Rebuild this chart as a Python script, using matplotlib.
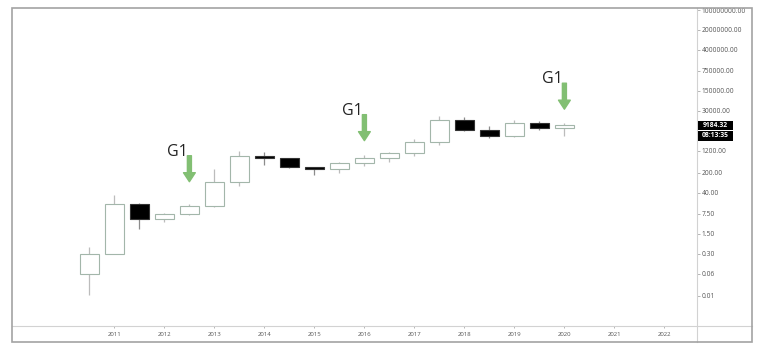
import matplotlib
matplotlib.use("Agg")
import matplotlib.pyplot as plt
from matplotlib.patches import Rectangle
from matplotlib.lines import Line2D
from matplotlib.ticker import FixedLocator, FixedFormatter, NullLocator
from matplotlib.transforms import Bbox, TransformedBbox

plt.rcParams['font.family'] = ['Open Sans', 'DejaVu Sans']

# ---------------- data ----------------
periods = [2010.5, 2011.0, 2011.5, 2012.0, 2012.5, 2013.0, 2013.5, 2014.0, 2014.5, 2015.0,
           2015.5, 2016.0, 2016.5, 2017.0, 2017.5, 2018.0, 2018.5, 2019.0, 2019.5, 2020.0]
opens  = [0.06, 0.30, 17.0, 4.8, 7.2, 14.5, 97, 760, 650, 325,
          265, 450, 690, 1000, 2500, 14500, 6600, 3800, 11000, 7300]
highs  = [0.5, 34, 17.5, 7.8, 16.5, 266, 1200, 1100, 680, 330,
          500, 850, 1080, 3000, 20000, 18000, 8500, 14000, 13000, 11500]
lows   = [0.0108, 0.29, 2.2, 4.0, 6.8, 13.0, 68, 380, 300, 170,
          205, 360, 500, 780, 1900, 5800, 3300, 3700, 6600, 4000]
closes = [0.30, 17.0, 4.8, 7.2, 14.5, 97, 760, 650, 325, 265,
          450, 690, 1000, 2500, 14500, 6600, 3800, 11000, 7300, 9184.32]

year_ticks = [2011, 2012, 2013, 2014, 2015, 2016, 2017, 2018, 2019, 2020, 2021, 2022]
year_labels = ["2011", "2012", "2013", "2014", "2015", "2016", "2017", "2018", "2019", "2020", "2021", "2022"]
price_ticks = [0.01, 0.06, 0.30, 1.50, 7.50, 40, 200, 1200, 30000, 150000, 750000,
               4000000, 20000000, 100000000]
price_labels = ["0.01", "0.06", "0.30", "1.50", "7.50", "40.00", "200.00", "1200.00",
                "30000.00", "150000.00", "750000.00", "4000000.00", "20000000.00", "100000000.00"]

last_price = "9184.32"
last_time = "08:13:35"

signal_periods = [2012.5, 2016.0, 2020.0]
signal_tips = [99, 2700, 34000]
signal_text = "G1"

# ---------------- layout ----------------
W, H = 760, 360
fig = plt.figure(figsize=(W / 100, H / 100), dpi=100)
fig.patch.set_facecolor('white')


def fx(px):
    return px / W


def fy(py):
    return 1 - py / H


ax = fig.add_axes([fx(12), fy(326), fx(697) - fx(12), fy(8) - fy(326)])
ax.set_facecolor('white')
ax.set_yscale('log')
ax.set_xlim(2008.952, 2022.652)
ax.set_ylim(10 ** -3.049, 10 ** 8.07)
for s in ax.spines.values():
    s.set_visible(False)

# ---------------- candles ----------------
up_edge = '#a3b6aa'
width = 0.38
for x, o, h, l, c in zip(periods, opens, highs, lows, closes):
    up = c >= o
    ax.vlines(x, l, h, color='#bcbcbc' if up else '#8c8c8c', lw=0.9, zorder=2)
    ax.bar(x, abs(c - o), width, bottom=min(o, c),
           color='white' if up else 'black',
           edgecolor=up_edge if up else '#333333', linewidth=0.8, zorder=3)

# ---------------- signals ----------------
green = '#82bf73'
for x, tip in zip(signal_periods, signal_tips):
    ax.annotate('', xy=(x, tip), xytext=(0, 26), textcoords='offset pixels',
                arrowprops=dict(arrowstyle='simple,head_length=6.5,head_width=8.5,tail_width=2.9',
                                mutation_scale=1, color=green, shrinkA=0, shrinkB=0),
                zorder=5)
    ax.annotate(signal_text, xy=(x, tip), xytext=(-2, 26), textcoords='offset pixels',
                ha='right', va='baseline', fontsize=11.5, color='#222222', zorder=5)

# ---------------- axes ticks ----------------
ax.yaxis.tick_right()
ax.yaxis.set_major_locator(FixedLocator(price_ticks))
ax.yaxis.set_major_formatter(FixedFormatter(price_labels))
ax.yaxis.set_minor_locator(NullLocator())
ax.tick_params(axis='y', which='major', direction='out', length=1.8, width=0.6,
               color='#aaaaaa', pad=1.5, labelsize=4.8, labelcolor='#555555')
ax.set_xticks(year_ticks)
ax.set_xticklabels(year_labels)
ax.xaxis.set_minor_locator(NullLocator())
ax.tick_params(axis='x', direction='out', length=1.5, width=0.6, color='#aaaaaa',
               pad=2.5, labelsize=4.3, labelcolor='#555555')

clip = TransformedBbox(Bbox.from_extents(0, 0, 1, fy(8)), fig.transFigure)
for lbl in ax.get_yticklabels():
    lbl.set_clip_box(clip)
    lbl.set_clip_on(True)

# ---------------- frame ----------------
fig.add_artist(Rectangle((fx(11.5), fy(342)), fx(752) - fx(11.5), fy(7.5) - fy(342),
                         transform=fig.transFigure, fill=False, ec='#a3a3a3', lw=1.2, zorder=10))
fig.add_artist(Line2D([fx(11.5), fx(752)], [fy(326), fy(326)], transform=fig.transFigure,
                      color='#d2d2d2', lw=0.8, zorder=9))
fig.add_artist(Line2D([fx(697), fx(697)], [fy(7.5), fy(342)], transform=fig.transFigure,
                      color='#d2d2d2', lw=0.8, zorder=9))

# ---------------- last price tag ----------------
cy = H - ax.transData.transform((periods[-1], closes[-1]))[1]
fig.add_artist(Rectangle((fx(697.5), fy(cy + 4.6)), fx(733) - fx(697.5), fy(cy - 4.6) - fy(cy + 4.6),
                         transform=fig.transFigure, fc='black', ec='none', zorder=11))
fig.add_artist(Rectangle((fx(697.5), fy(cy + 15.5)), fx(733) - fx(697.5), fy(cy + 5.2) - fy(cy + 15.5),
                         transform=fig.transFigure, fc='black', ec='none', zorder=11))
fig.text(fx(715.5), fy(cy), last_price, ha='center', va='center', color='white',
         fontsize=4.9, fontweight='bold', zorder=12)
fig.text(fx(715.5), fy(cy + 10.3), last_time, ha='center', va='center', color='white',
         fontsize=4.9, fontweight='bold', zorder=12)

fig.savefig('out.png', dpi=100, facecolor='white')
